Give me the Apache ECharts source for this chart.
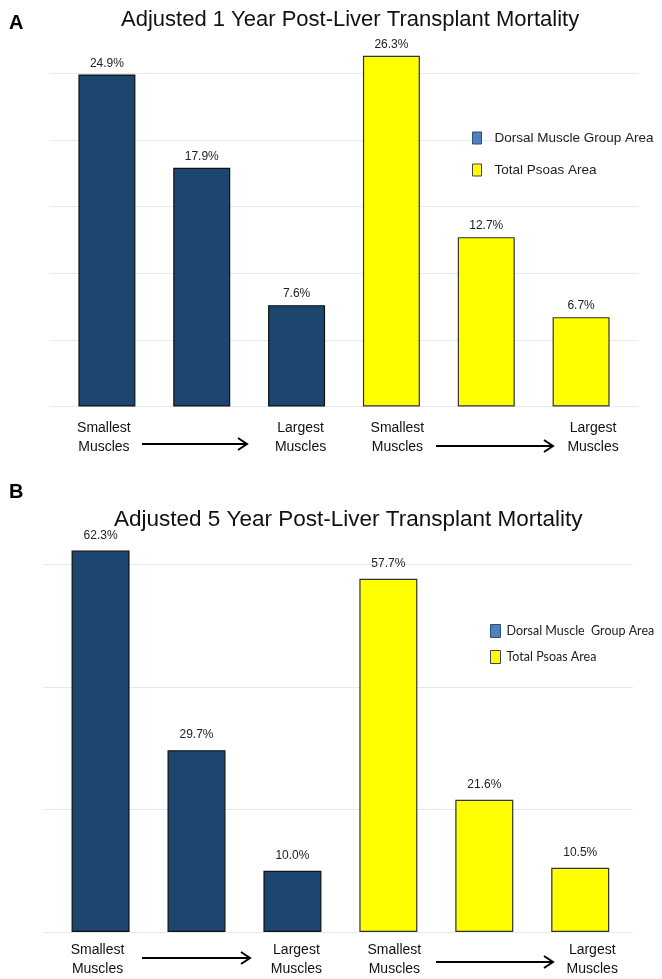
<!DOCTYPE html>
<html><head><meta charset="utf-8">
<script src="https://cdn.jsdelivr.net/npm/echarts@6.0.0/dist/echarts.min.js"></script>
<style>html,body{margin:0;padding:0;background:#fff}#chart{width:662px;height:979px}</style>
</head><body><div id="chart"></div>
<script>
// ---- data ----
const positionLabels = ['Smallest\nMuscles', '', 'Largest\nMuscles', 'Smallest\nMuscles', '', 'Largest\nMuscles'];
const labelPositions = [0, 2, 3, 5];
const oneYearDorsal = [24.9, 17.9, 7.6];
const oneYearPsoas = [26.3, 12.7, 6.7];
const fiveYearDorsal = [62.3, 29.7, 10.0];
const fiveYearPsoas = [57.7, 21.6, 10.5];
const titleA = 'Adjusted 1 Year Post-Liver Transplant Mortality';
const titleB = 'Adjusted 5 Year Post-Liver Transplant Mortality';
const namesA = ['Dorsal Muscle Group Area', 'Total Psoas Area'];
const namesB = ['Dorsal Muscle  Group Area', 'Total Psoas Area'];

const FONT = '"Liberation Sans", Arial, sans-serif';
const NAVY = '#1c4670';
const YELLOW = '#ffff00';
// small horizontal nudges of the bottom labels (style only)
const labelStyleKey = {0: 'p0', 2: 'p2', 3: 'p3', 5: 'p5'};

function toPoints(vals, offset) { return vals.map((v, i) => [i + offset, v]); }

function labelRich() {
  const base = {fontSize: 14, lineHeight: 19, color: '#111', fontFamily: FONT, align: 'center'};
  return {
    p0: Object.assign({}, base, {padding: [0, 6, 0, 0]}),
    p2: Object.assign({}, base, {padding: [0, 0, 0, 8]}),
    p3: Object.assign({}, base, {padding: [0, 0, 0, 12]}),
    p5: Object.assign({}, base, {padding: [0, 0, 0, 24]})
  };
}
function xAx(gridIndex, min, max, margin) {
  return {
    type: 'value', gridIndex, min, max,
    splitLine: {show: false}, axisLine: {show: false}, axisTick: {show: false},
    axisLabel: {
      customValues: labelPositions,
      formatter: v => {
        const i = Math.round(v);
        const k = labelStyleKey[i];
        return positionLabels[i].split('\n').map(s => '{' + k + '|' + s + '}').join('\n');
      },
      rich: labelRich(),
      fontSize: 14, lineHeight: 19, color: '#111', margin, fontFamily: FONT
    }
  };
}
function yAx(gridIndex, max, interval) {
  return {
    type: 'value', gridIndex, min: 0, max, interval,
    axisLabel: {show: false}, axisLine: {show: false}, axisTick: {show: false},
    splitLine: {show: true, showMaxLine: false, lineStyle: {color: '#e0ebec', width: 1}}
  };
}
function barSeries(name, vals, offset, idx, color, border, width, dist) {
  return {
    name, type: 'bar', xAxisIndex: idx, yAxisIndex: idx, stack: 's' + idx,
    barWidth: width, data: toPoints(vals, offset),
    itemStyle: {color, borderColor: border, borderWidth: 1.2},
    label: {show: true, position: 'top', distance: dist, fontSize: 12, color: '#222', fontFamily: FONT,
      formatter: p => p.value[1].toFixed(1) + '%'}
  };
}
function arrow(x1, x2, y) {
  return {type: 'group', children: [
    {type: 'line', shape: {x1, y1: y, x2: x2 - 1, y2: y}, style: {stroke: '#000', lineWidth: 2}},
    {type: 'polyline', shape: {points: [[x2 - 9, y - 6], [x2, y], [x2 - 9, y + 6]]}, style: {stroke: '#000', lineWidth: 2, fill: null}}
  ]};
}

const chart = echarts.init(document.getElementById('chart'), null, {renderer: 'canvas'});
chart.setOption({
  animation: false,
  backgroundColor: '#fff',
  title: [
    {text: 'A', left: 4, top: 8, textStyle: {fontSize: 20, fontWeight: 'bold', color: '#000', fontFamily: FONT}},
    {text: titleA, left: 116, top: 4, textStyle: {fontSize: 22, fontWeight: 'normal', color: '#111', fontFamily: FONT}},
    {text: 'B', left: 4, top: 477, textStyle: {fontSize: 20, fontWeight: 'bold', color: '#000', fontFamily: FONT}},
    {text: titleB, left: 109, top: 503, textStyle: {fontSize: 22.5, fontWeight: 'normal', color: '#111', fontFamily: FONT}}
  ],
  legend: [
    {orient: 'vertical', left: 472, top: 131, padding: 0, itemWidth: 9, itemHeight: 12, itemGap: 18, icon: 'rect',
      textStyle: {fontSize: 13.5, color: '#222', fontFamily: FONT, padding: [0, 0, 0, 8]},
      data: [
        {name: namesA[0], itemStyle: {color: '#4f81bd', borderColor: '#2d4f78', borderWidth: 1}},
        {name: namesA[1], itemStyle: {color: YELLOW, borderColor: '#444', borderWidth: 1}}
      ]},
    {orient: 'vertical', left: 490, top: 624, padding: 0, itemWidth: 10, itemHeight: 13, itemGap: 12, icon: 'rect',
      textStyle: {fontSize: 12.5, color: '#222', fontFamily: 'Lato, "Liberation Sans", sans-serif', padding: [0, 0, 0, 1]},
      data: [
        {name: namesB[0], itemStyle: {color: '#4f81bd', borderColor: '#2d4f78', borderWidth: 1}},
        {name: namesB[1], itemStyle: {color: YELLOW, borderColor: '#444', borderWidth: 1}}
      ]}
  ],
  grid: [
    {left: 50, width: 588, top: 6.5, height: 400},
    {left: 43, width: 590, top: 534, height: 400}
  ],
  xAxis: [xAx(0, -0.6, 5.6, 12), xAx(1, -0.6, 5.55, 9)],
  yAxis: [yAx(0, 30, 5), yAx(1, 65, 20)],
  series: [
    barSeries(namesA[0], oneYearDorsal, 0, 0, NAVY, '#111', 57, 5),
    barSeries(namesA[1], oneYearPsoas, 3, 0, YELLOW, '#333', 57, 5),
    barSeries(namesB[0], fiveYearDorsal, 0, 1, NAVY, '#111', 58, 9),
    barSeries(namesB[1], fiveYearPsoas, 3, 1, YELLOW, '#333', 58, 9)
  ],
  graphic: [arrow(142, 247, 444), arrow(436, 553, 446), arrow(142, 250, 958), arrow(436, 553, 962)]
});
</script></body></html>
